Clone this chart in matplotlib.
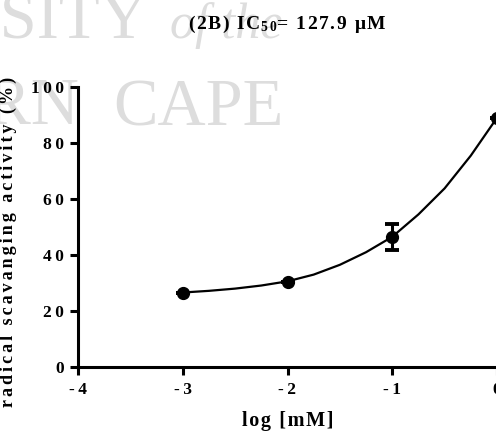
import matplotlib
matplotlib.use("Agg")
import matplotlib.pyplot as plt

plt.rcParams["axes.unicode_minus"] = False
plt.rcParams["mathtext.fontset"] = "custom"
plt.rcParams["mathtext.bf"] = "Liberation Serif:bold"
plt.rcParams["mathtext.rm"] = "Liberation Serif"
plt.rcParams["mathtext.default"] = "bf"

# measured points (mean +/- error)
log_conc = [-3, -2, -1, 0]
activity = [26.6, 30.5, 46.4, 89.0]
activity_err = [0, 0, 4.6, 0]

# fitted curve
curve_x = [-3, -2.75, -2.5, -2.25, -2, -1.75, -1.5, -1.25, -1, -0.75, -0.5, -0.25, 0]
curve_y = [26.6, 27.2, 28.0, 29.1, 30.6, 33.0, 36.5, 41.0, 46.5, 54.5, 63.8, 75.5, 89.0]

xticks = [-4, -3, -2, -1, 0]
xtick_labels = ["-4", "-3", "-2", "-1", "0"]
yticks = [0, 20, 40, 60, 80, 100]
ytick_labels = ["0", "20", "40", "60", "80", "100"]

# the source PDF spreads its letters out
THIN = "\u2009"
SIXTH = "\u2006"
HAIR = "\u200a"


def spread(s, gap=HAIR):
    return gap.join(s)


W, H = 496, 437
fig = plt.figure(figsize=(W / 100, H / 100), dpi=100)
serif = ["Liberation Serif", "DejaVu Serif"]

# thesis watermark in the background
wm = dict(color="#dddddd", family=serif, va="baseline", zorder=-5)
fig.text(148 / W, (H - 38) / H, "UNIVERSITY", ha="right", fontsize=48, **wm)
fig.text(170 / W, (H - 38) / H, "of the", ha="left", style="italic", fontsize=36, **wm)
fig.text(80 / W, (H - 125) / H, "WESTERN", ha="right", fontsize=48, **wm)
fig.text(113 / W, (H - 125) / H, "CAPE", ha="left", fontsize=48, **wm)

ax = fig.add_axes([78 / W, 70 / H, (497 - 78) / W, 280 / H])
ax.set_facecolor("none")

ax.plot(curve_x, curve_y, color="black", lw=1.6, clip_on=False, zorder=2)
ax.errorbar(log_conc, activity, yerr=activity_err, fmt="o", color="black",
            ms=8.5, elinewidth=2.2, capsize=5, capthick=2.8, clip_on=False, zorder=3)

ax.set_xlim(-4, 0)
ax.set_ylim(0, 100)
ax.set_xticks(xticks, [spread(t, THIN) for t in xtick_labels])
ax.set_yticks(yticks, [spread(t, THIN) for t in ytick_labels])
for s in ["top", "right"]:
    ax.spines[s].set_visible(False)
for s in ["left", "bottom"]:
    ax.spines[s].set_linewidth(2.2)
ax.tick_params(width=2.2, length=6, direction="out")
ax.tick_params(axis="x", pad=5)
ax.tick_params(axis="y", pad=4)
for lab in ax.get_xticklabels() + ax.get_yticklabels():
    lab.set_fontfamily(serif)
    lab.set_fontweight("bold")
    lab.set_fontsize(12.5)

ax.set_xlabel(spread("log [mM]"), family=serif, fontweight="bold", fontsize=14.5, labelpad=9)
ax.set_ylabel(spread("radical scavanging activity (%)", SIXTH), family=serif,
              fontweight="bold", fontsize=13)
ax.yaxis.set_label_coords(-0.146, 0.448)
ax.set_title(spread("(2B) IC") + r"$_{5\,0}$" + spread("= 127.9 μM"), family=serif,
             fontweight="bold", fontsize=14, pad=42)

fig.savefig("out.png", dpi=100)
